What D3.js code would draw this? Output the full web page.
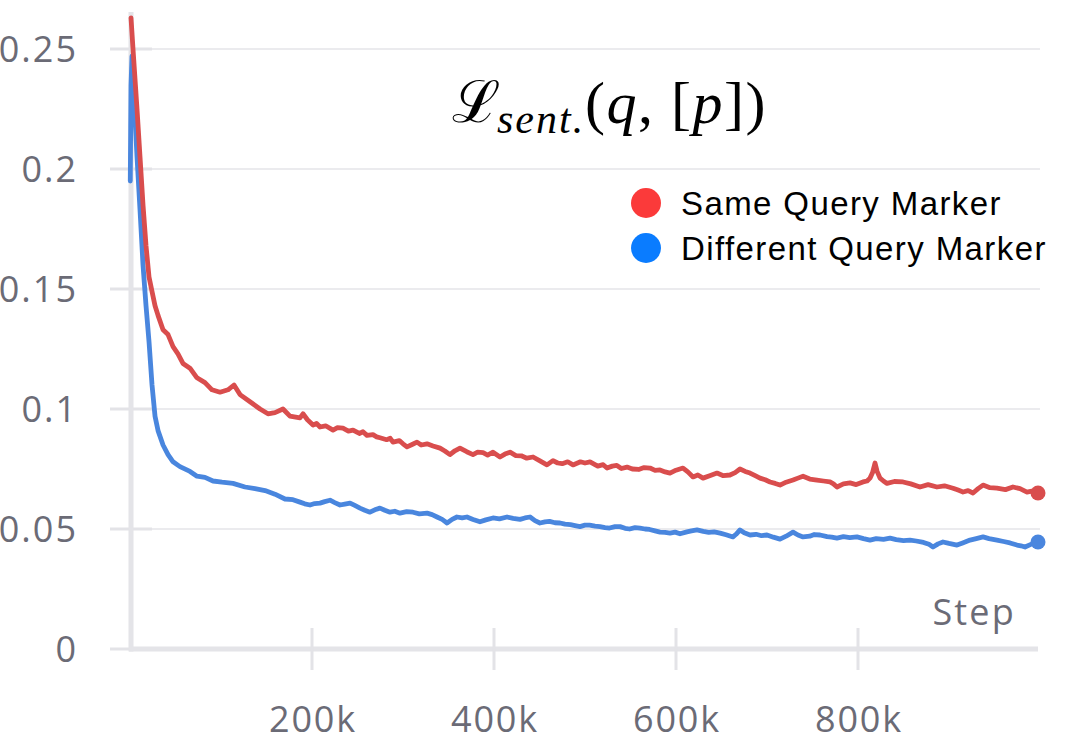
<!DOCTYPE html>
<html>
<head>
<meta charset="utf-8">
<script src="https://cdn.jsdelivr.net/npm/d3@7"></script>
<style>
  html, body { margin: 0; padding: 0; background: #ffffff; }
  svg { display: block; }
</style>
</head>
<body>
<svg id="chart" width="1065" height="750"></svg>
<script>
// ---- data (step in thousands, loss value) ----
const seriesNames = ["Same Query Marker", "Different Query Marker"];
const xTickValues = [200, 400, 600, 800];
const xTickLabels = ["200k", "400k", "600k", "800k"];
const yTickValues = [0, 0.05, 0.1, 0.15, 0.2, 0.25];
const yTickLabels = ["0", "0.05", "0.1", "0.15", "0.2", "0.25"];

const sameSteps = [1.1,3.3,7.7,11.0,14.3,17.6,20.9,24.2,27.5,30.8,36.3,41.8,47.3,52.7,58.2,65.9,73.6,82.4,90.1,98.9,
  107.7,114.3,120.9,131.9,142.9,151.6,159.3,168.1,175.8,
  186.8,190.1,195,201.1,205,208.8,215,223.1,228,234,240,245.1,252,256,260.4,267,271,274.7,282,286,
  289,296,300,304.4,310,315.4,320,326.4,333,340.7,346,351.6,357,362.6,370,376.9,382,388,393,398.9,
  406.6,412,417.6,424,430,436,442.9,450,458.2,464.8,470,475,481,486.8,495,500,505.5,514,520,524.2,
  530,535,540,546.2,552,559,565,571.4,577,582.4,588,593.4,600,607.7,613,618.7,624,629.7,637,645.1,
  652,659.3,665,670.3,676,681.3,687,692.3,698,703.3,709,714.3,721,728.6,734,739.6,747,754.9,762,769.2,
  773,776.9,784,791.2,798,805.5,810,813.2,816,818.7,821,824.2,828,831.9,840,849.5,858,868.1,877,886.8,
  895,904.4,910,915.4,921,926.4,932,937.4,945,952.7,962,970.3,978,985.7,991,996.7];
const sameValues = [0.263,0.250,0.225,0.205,0.185,0.168,0.155,0.149,0.143,0.139,0.133,0.131,0.126,0.123,0.119,0.117,0.113,0.111,0.108,0.107,
  0.108,0.110,0.106,0.103,0.100,0.098,0.0985,0.100,0.097,
  0.0963,0.0980,0.0955,0.0933,0.0940,0.0925,0.0930,0.0912,0.0922,0.0920,0.0908,0.0912,0.0898,0.0905,0.0890,0.0893,0.0884,0.0880,0.0872,0.0878,
  0.0862,0.0868,0.0855,0.0842,0.0852,0.0862,0.0850,0.0855,0.0846,0.0837,0.0825,0.0810,0.0826,0.0837,0.0822,0.0810,0.0820,0.0818,0.0808,0.0820,
  0.0800,0.0812,0.0820,0.0806,0.0805,0.0795,0.0800,0.0785,0.0767,0.0785,0.0775,0.0772,0.0780,0.0767,0.0780,0.0775,0.0780,0.0762,0.0768,0.0754,
  0.0762,0.0765,0.0752,0.0758,0.0750,0.0748,0.0756,0.0754,0.0744,0.0746,0.0738,0.0733,0.0745,0.0754,0.0738,0.0717,0.0725,0.0712,0.0722,0.0733,
  0.0722,0.0725,0.0735,0.0750,0.0740,0.0733,0.0722,0.0712,0.0705,0.0696,0.0690,0.0683,0.0695,0.0704,0.0712,0.0720,0.0708,0.0704,0.0700,0.0696,
  0.0688,0.0675,0.0688,0.0692,0.0685,0.0696,0.0700,0.0712,0.0735,0.0775,0.0740,0.0712,0.0700,0.0690,0.0698,0.0696,0.0688,0.0675,0.0685,0.0675,
  0.0680,0.0670,0.0662,0.0654,0.0660,0.0650,0.0668,0.0683,0.0672,0.0670,0.0664,0.0675,0.0668,0.0654,0.0658,0.0650];

const diffSteps = [0.3,1.1,2.2,4.4,7.7,11.0,14.3,17.6,20.9,24.2,27.5,30.8,36.3,41.8,47.3,54.9,65.9,73.6,82.4,91.2,
  101.1,113.2,126.4,137.4,148.4,159.3,170.3,179.1,
  186.8,192,197.8,203,208.8,214,219.8,225,230.8,236,241.8,247,252.7,258,263.7,269,274.7,280,285.7,291,296.7,304,
  311,318,326.4,332,337.4,343,348.4,354,359.3,365,370.3,377,384.6,391,398.9,406,414.3,421,428.6,434,
  439.6,445,450.5,456,461,467,472.5,478,484,489,494.5,500,505,511,516.5,522,527,533,538.5,544,
  549,555,560.4,566,571,577,582.4,588,593.4,599,604.4,612,617,623.1,630,636,642,648.4,655,662.6,
  666,670.3,675,681.3,688,694,700,707,714.3,721,728.6,734,739.6,747,752,758.2,766,771,776.9,784,
  791,798.9,806,813.2,820,828,835.2,842,850,857.1,864,872,878,882.4,888,893.4,900,908.8,915,923.1,
  930,937.4,944,952.7,960,967,974.7,979,983.5,990,996.7];
const diffValues = [0.195,0.235,0.247,0.230,0.205,0.183,0.160,0.143,0.128,0.110,0.097,0.091,0.085,0.081,0.078,0.076,0.074,0.072,0.0715,0.0700,
  0.0695,0.0690,0.0675,0.0668,0.0660,0.0645,0.0625,0.0622,
  0.0612,0.0605,0.0600,0.0606,0.0608,0.0614,0.0620,0.0610,0.0600,0.0604,0.0608,0.0598,0.0587,0.0578,0.0570,0.0580,0.0587,0.0578,0.0570,0.0574,0.0566,0.0572,
  0.0570,0.0563,0.0566,0.0560,0.0550,0.0540,0.0525,0.0540,0.0550,0.0546,0.0550,0.0540,0.0530,0.0538,0.0546,0.0542,0.0550,0.0544,0.0540,0.0546,
  0.0550,0.0535,0.0525,0.0530,0.0532,0.0526,0.0525,0.0520,0.0518,0.0514,0.0510,0.0516,0.0516,0.0512,0.0510,0.0506,0.0504,0.0510,0.0510,0.0503,
  0.0500,0.0506,0.0504,0.0500,0.0498,0.0492,0.0487,0.0486,0.0483,0.0487,0.0480,0.0488,0.0492,0.0496,0.0490,0.0486,0.0488,0.0483,0.0476,0.0467,
  0.0478,0.0496,0.0484,0.0475,0.0478,0.0472,0.0475,0.0466,0.0458,0.0470,0.0487,0.0475,0.0467,0.0470,0.0477,0.0475,0.0468,0.0466,0.0462,0.0468,
  0.0464,0.0467,0.0460,0.0454,0.0460,0.0457,0.0462,0.0456,0.0452,0.0454,0.0450,0.0444,0.0436,0.0425,0.0438,0.0446,0.0440,0.0433,0.0442,0.0454,
  0.0460,0.0467,0.0460,0.0454,0.0448,0.0442,0.0433,0.0430,0.0425,0.0436,0.0446];

// ---- layout ----
const svg = d3.select("#chart");
const x = d3.scaleLinear().domain([0, 1000]).range([130, 1040]);
const y = d3.scaleLinear().domain([0, 0.25]).range([649, 49]);
const gray = "#6b6b76";
const tickFont = "'Open Sans', 'Noto Sans', sans-serif";

// gridlines
svg.append("g").selectAll("line").data(yTickValues.filter(v => v > 0)).join("line")
  .attr("x1", 152).attr("x2", 1040)
  .attr("y1", d => y(d)).attr("y2", d => y(d))
  .attr("stroke", "#ebebee").attr("stroke-width", 2);
// y tick marks
svg.append("g").selectAll("line").data(yTickValues).join("line")
  .attr("x1", 110).attr("x2", 152)
  .attr("y1", d => y(d)).attr("y2", d => y(d))
  .attr("stroke", "#e3e3e7").attr("stroke-width", 3);
// y axis line
svg.append("line").attr("x1", 131).attr("x2", 131).attr("y1", 12).attr("y2", y(0) + 2.5)
  .attr("stroke", "#e4e4e8").attr("stroke-width", 5);
// x axis line
svg.append("line").attr("x1", 129).attr("x2", 1038).attr("y1", y(0)).attr("y2", y(0))
  .attr("stroke", "#e4e4e8").attr("stroke-width", 5);
// x ticks
svg.append("g").selectAll("line").data(xTickValues).join("line")
  .attr("x1", d => x(d)).attr("x2", d => x(d))
  .attr("y1", y(0) - 21).attr("y2", y(0) + 21)
  .attr("stroke", "#e3e3e7").attr("stroke-width", 3);

// y tick labels
svg.append("g").selectAll("text").data(yTickValues).join("text")
  .attr("x", 78).attr("y", d => y(d) + 13)
  .attr("text-anchor", "end")
  .attr("font-family", tickFont).attr("font-size", 36).attr("letter-spacing", 2).attr("fill", gray)
  .text((d, i) => yTickLabels[i]);
// x tick labels
svg.append("g").selectAll("text").data(xTickValues).join("text")
  .attr("x", d => x(d) + 1).attr("y", 732)
  .attr("text-anchor", "middle")
  .attr("font-family", tickFont).attr("font-size", 36).attr("letter-spacing", 1.8).attr("fill", gray)
  .text((d, i) => xTickLabels[i]);
// axis title
svg.append("text").attr("x", 1016).attr("y", 625).attr("text-anchor", "end")
  .attr("font-family", tickFont).attr("font-size", 36).attr("letter-spacing", 2.2).attr("fill", gray).text("Step");

// ---- lines ----
const defs = svg.append("defs");
defs.append("filter").attr("id", "soft").append("feGaussianBlur").attr("stdDeviation", 0.6);

const line = d3.line().x(d => x(d[0])).y(d => y(d[1]));
const series = [
  { name: seriesNames[1], steps: diffSteps, values: diffValues, color: "#4a86de" },
  { name: seriesNames[0], steps: sameSteps, values: sameValues, color: "#d94d4d" }
];
series.forEach(s => {
  const pts = s.steps.map((k, i) => [k, s.values[i]]);
  svg.append("path").datum(pts)
    .attr("d", line)
    .attr("fill", "none")
    .attr("stroke", s.color).attr("stroke-width", 4.8)
    .attr("stroke-linejoin", "round").attr("stroke-linecap", "round")
    .attr("filter", "url(#soft)");
  const last = pts[pts.length - 1];
  svg.append("circle").attr("cx", x(last[0]) + 1).attr("cy", y(last[1]))
    .attr("r", 7.5).attr("fill", s.color);
});

// ---- title (math formula) ----
const serif = "'Liberation Serif', 'DejaVu Serif', serif";
const title = svg.append("text").attr("font-family", serif).attr("fill", "#000");
title.append("tspan").attr("x", 452).attr("y", 122).attr("font-size", 58).attr("font-family", "'DejaVu Serif', serif").text("\u2112");
title.append("tspan").attr("x", 497).attr("y", 133).attr("font-size", 42).attr("font-style", "italic").attr("letter-spacing", 2).text("sent.");
const paren = svg.append("text").attr("x", 585).attr("y", 123)
  .attr("font-family", serif).attr("font-size", 60).attr("letter-spacing", 1.5).attr("fill", "#000");
paren.append("tspan").text("(");
paren.append("tspan").attr("font-style", "italic").text("q");
paren.append("tspan").text(", [");
paren.append("tspan").attr("font-style", "italic").text("p");
paren.append("tspan").text("])");

// ---- legend ----
const legendColors = ["#fb3a3a", "#0a7cff"];
const legend = svg.append("g");
seriesNames.forEach((n, i) => {
  legend.append("circle").attr("cx", 646).attr("cy", 203 + i * 45).attr("r", 15).attr("fill", legendColors[i]);
  legend.append("text").attr("x", 681).attr("y", 215 + i * 45)
    .attr("font-family", "'Liberation Sans', Arial, sans-serif").attr("font-size", 33)
    .attr("letter-spacing", 1.4).attr("fill", "#000").text(n);
});
</script>
</body>
</html>
